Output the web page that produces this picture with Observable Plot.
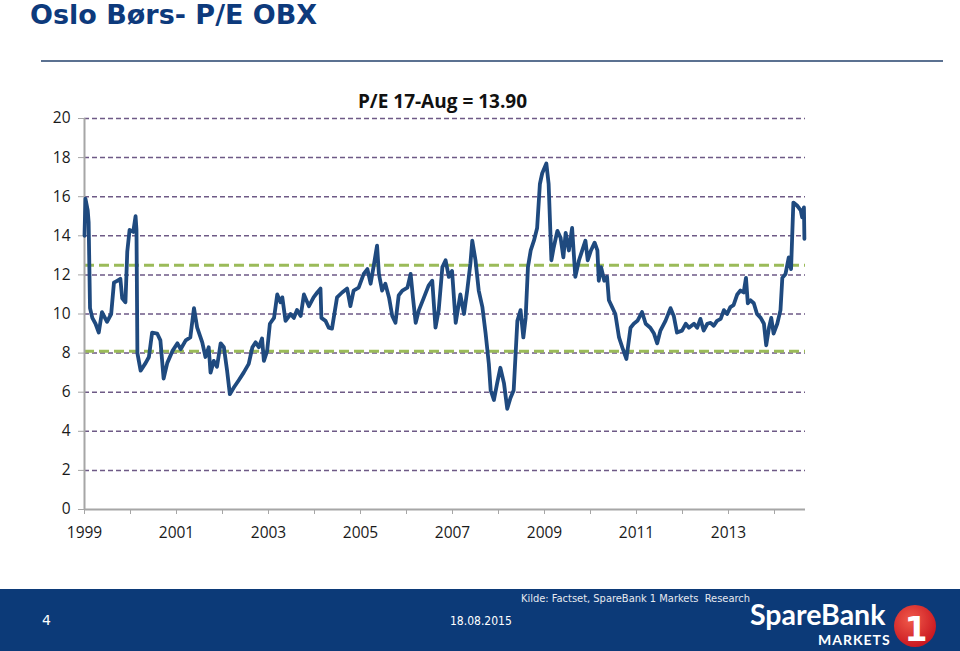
<!DOCTYPE html>
<html><head><meta charset="utf-8">
<script src="https://cdn.jsdelivr.net/npm/d3@7"></script>
<script src="https://cdn.jsdelivr.net/npm/@observablehq/plot@0.6"></script>
<style>
body{margin:0;width:960px;height:651px;position:relative;overflow:hidden;background:#fff;}
#title{position:absolute;left:30px;top:3px;font:bold 27px "DejaVu Sans",sans-serif;color:#0d3a7c;white-space:nowrap;line-height:24px}
#rule{position:absolute;left:41px;top:60px;width:902px;height:2px;background:#5b7191}
#ctitle{position:absolute;left:0;width:885px;text-align:center;top:88px;font:bold 19px "Open Sans",sans-serif;color:#111}
#chart{position:absolute;left:0;top:85px}
#footer{position:absolute;left:0;top:589px;width:960px;height:62px;background:#0c3a78}
#page{position:absolute;left:42px;top:612px;font:14px "DejaVu Sans",sans-serif;color:#fff}
#date{position:absolute;left:450px;top:614px;font:12px "DejaVu Sans Condensed","DejaVu Sans",sans-serif;color:#fff}
#src{position:absolute;left:521px;top:592px;font:11px "DejaVu Sans Condensed","DejaVu Sans",sans-serif;color:#e6e9ef;white-space:nowrap}
#brand{position:absolute;left:750px;top:597px;font:bold 28.5px Lato,sans-serif;color:#fff;line-height:1.2;white-space:nowrap}
#mk{position:absolute;left:818px;top:632px;font:bold 14px Lato,sans-serif;color:#fff;letter-spacing:1px;line-height:1.2;white-space:nowrap}
#logo{position:absolute;left:893px;top:603px}
</style></head>
<body>
<div id="title">Oslo Børs- P/E OBX</div>
<div id="rule"></div>
<div id="ctitle">P/E 17-Aug = 13.90</div>
<div id="chart"></div>
<div id="footer"></div>
<div id="page">4</div>
<div id="date">18.08.2015</div>
<div id="src">Kilde: Factset, SpareBank 1 Markets&nbsp; Research</div>
<div id="brand">SpareBank</div>
<div id="mk">MARKETS</div>
<svg id="logo" width="48" height="48" viewBox="0 0 48 48">
  <defs><radialGradient id="rg" cx="40%" cy="35%" r="70%"><stop offset="0" stop-color="#f05a4a"/><stop offset="1" stop-color="#c8141e"/></radialGradient></defs>
  <circle cx="22" cy="23" r="21" fill="url(#rg)"/>
  <text x="23" y="38" text-anchor="middle" font-family="DejaVu Sans" font-weight="bold" font-size="33" fill="#fff">1</text>
</svg>
<script>
// Decimal year of each observation
const dates = [
1999.00,1999.02,1999.07,1999.09,1999.12,1999.17,1999.24,1999.31,1999.38,1999.49,1999.58,1999.64,1999.71,1999.78,1999.82,1999.89,1999.93,1999.98,
2000.06,2000.11,2000.13,2000.15,2000.22,2000.33,2000.40,2000.47,2000.58,2000.65,2000.72,2000.80,2000.91,
2001.02,2001.09,2001.20,2001.30,2001.38,2001.45,2001.56,2001.63,2001.70,2001.74,2001.81,2001.88,2001.96,
2002.03,2002.10,2002.16,2002.25,2002.35,2002.46,2002.57,2002.65,2002.72,2002.79,2002.86,2002.90,2002.97,
2003.03,2003.12,2003.19,2003.26,2003.30,2003.37,2003.48,2003.55,2003.62,2003.70,2003.77,2003.88,2003.98,
2004.06,2004.13,2004.15,2004.24,2004.31,2004.38,2004.49,2004.60,2004.71,2004.78,2004.85,2004.96,
2005.07,2005.15,2005.22,2005.29,2005.36,2005.40,2005.47,2005.54,2005.62,2005.69,2005.76,2005.83,2005.91,
2006.02,2006.09,2006.14,2006.20,2006.27,2006.38,2006.48,2006.56,2006.63,2006.70,2006.78,2006.85,2006.92,2006.99,
2007.07,2007.17,2007.25,2007.32,2007.39,2007.43,2007.50,2007.57,2007.65,2007.72,2007.79,2007.83,2007.90,2007.97,
2008.04,2008.12,2008.19,2008.26,2008.33,2008.41,2008.48,2008.54,2008.59,2008.64,2008.70,2008.77,2008.84,2008.90,2008.95,
2009.04,2009.09,2009.15,2009.20,2009.28,2009.35,2009.41,2009.46,2009.53,2009.60,2009.67,2009.75,2009.82,2009.89,2009.94,
2010.01,2010.09,2010.15,2010.18,2010.23,2010.30,2010.36,2010.40,2010.47,2010.54,2010.62,2010.69,2010.78,2010.87,2010.94,
2011.02,2011.12,2011.20,2011.30,2011.38,2011.45,2011.52,2011.63,2011.74,2011.81,2011.88,2011.99,
2012.07,2012.14,2012.25,2012.32,2012.39,2012.46,2012.54,2012.61,2012.68,2012.75,2012.83,2012.90,2012.97,
2013.04,2013.11,2013.19,2013.26,2013.33,2013.38,2013.42,2013.48,2013.55,2013.62,2013.70,2013.77,2013.82,2013.88,2013.93,2013.98,
2014.06,2014.13,2014.17,2014.24,2014.31,2014.36,2014.41,2014.49,2014.57,2014.60,2014.64,2014.65
];
// P/E OBX
const pe = [
14.0,15.9,15.3,14.7,10.3,9.8,9.5,9.05,10.1,9.6,10.0,11.6,11.7,11.8,10.8,10.6,13.2,14.3,
14.2,15.0,14.3,8.0,7.1,7.5,7.8,9.05,9.0,8.65,6.7,7.5,8.1,
8.5,8.2,8.65,8.8,10.3,9.3,8.55,7.8,8.3,7.0,7.6,7.3,8.5,
8.3,7.1,5.9,6.25,6.6,7.0,7.45,8.3,8.55,8.3,8.75,7.6,8.1,
9.5,9.8,11.0,10.6,10.85,9.65,10.0,9.8,10.2,9.9,11.0,10.4,10.85,
11.1,11.3,9.8,9.65,9.3,9.25,10.85,11.1,11.3,10.4,11.2,11.35,
12.05,12.3,11.55,12.5,13.5,12.05,11.2,11.55,10.85,9.9,9.55,10.95,11.2,
11.35,12.05,10.85,9.55,10.2,10.85,11.45,11.7,9.3,10.2,12.4,12.75,11.9,12.2,
9.55,11.0,10.0,11.2,12.6,13.75,12.75,11.2,10.35,9.0,7.45,6.1,5.6,6.45,
7.25,6.45,5.15,5.7,6.1,9.65,10.2,8.8,9.8,12.4,13.25,13.75,14.4,16.65,17.2,
17.7,16.65,12.75,13.4,14.25,13.9,12.9,14.15,13.25,14.4,11.9,12.75,13.25,13.75,12.75,
13.25,13.65,13.25,11.7,12.4,11.7,11.9,10.7,10.35,10.0,8.8,8.3,7.7,9.3,9.5,
9.65,10.1,9.5,9.3,9.0,8.5,9.15,9.65,10.3,9.9,9.05,9.15,
9.5,9.3,9.5,9.3,9.75,9.15,9.5,9.55,9.4,9.65,9.75,10.2,10.0,
10.35,10.45,11.0,11.2,11.1,11.85,10.55,10.7,10.55,10.0,9.8,9.5,8.4,9.3,9.8,9.0,
9.5,10.2,11.85,12.05,12.9,12.3,15.7,15.55,15.3,14.95,15.45,13.85
];
// Reference bands (green dashed)
const bandLevels = [12.5, 8.1];
// Axis ticks
const yTicks = [0,2,4,6,8,10,12,14,16,18,20];
const gridLevels = [2,4,6,8,10,12,14,16,18,20];
const xTickYears = [1999,2000,2001,2002,2003,2004,2005,2006,2007,2008,2009,2010,2011,2012,2013,2014];
const xLabels = ["1999","2001","2003","2005","2007","2009","2011","2013"];

const data = dates.map((t, i) => ({t, pe: pe[i]}));

const chart = Plot.plot({
  width: 960, height: 470,
  marginTop: 33, marginBottom: 46, marginLeft: 84, marginRight: 155,
  style: {fontFamily: "'Open Sans', sans-serif", fontSize: "15.5px", color: "#1a1a1a", background: "transparent"},
  x: {domain: [1999, 1999 + 721/46]},
  y: {domain: [0, 20]},
  marks: [
    Plot.ruleY(gridLevels, {stroke: "#6e5a86", strokeWidth: 1.5, strokeDasharray: "5,3"}),
    Plot.ruleY(bandLevels, {stroke: "#9bbb59", strokeWidth: 3, strokeDasharray: "10,5"}),
    Plot.ruleX([1999], {stroke: "#a6a6a6", strokeWidth: 2}),
    Plot.ruleY([0], {stroke: "#a6a6a6", strokeWidth: 2}),
    Plot.axisY({ticks: yTicks, tickSize: 6, tickPadding: 8, stroke: "#a6a6a6", label: null}),
    Plot.axisX({ticks: xTickYears, tickSize: 5, tickPadding: 12, stroke: "#a6a6a6", label: null,
      tickFormat: d => xLabels.includes(String(d)) ? String(d) : ""}),
    Plot.line(data, {x: "t", y: "pe", stroke: "#1f4a7f", strokeWidth: 3.8, strokeLinejoin: "round", strokeLinecap: "round"})
  ]
});
document.getElementById("chart").appendChild(chart);
</script>
</body></html>
